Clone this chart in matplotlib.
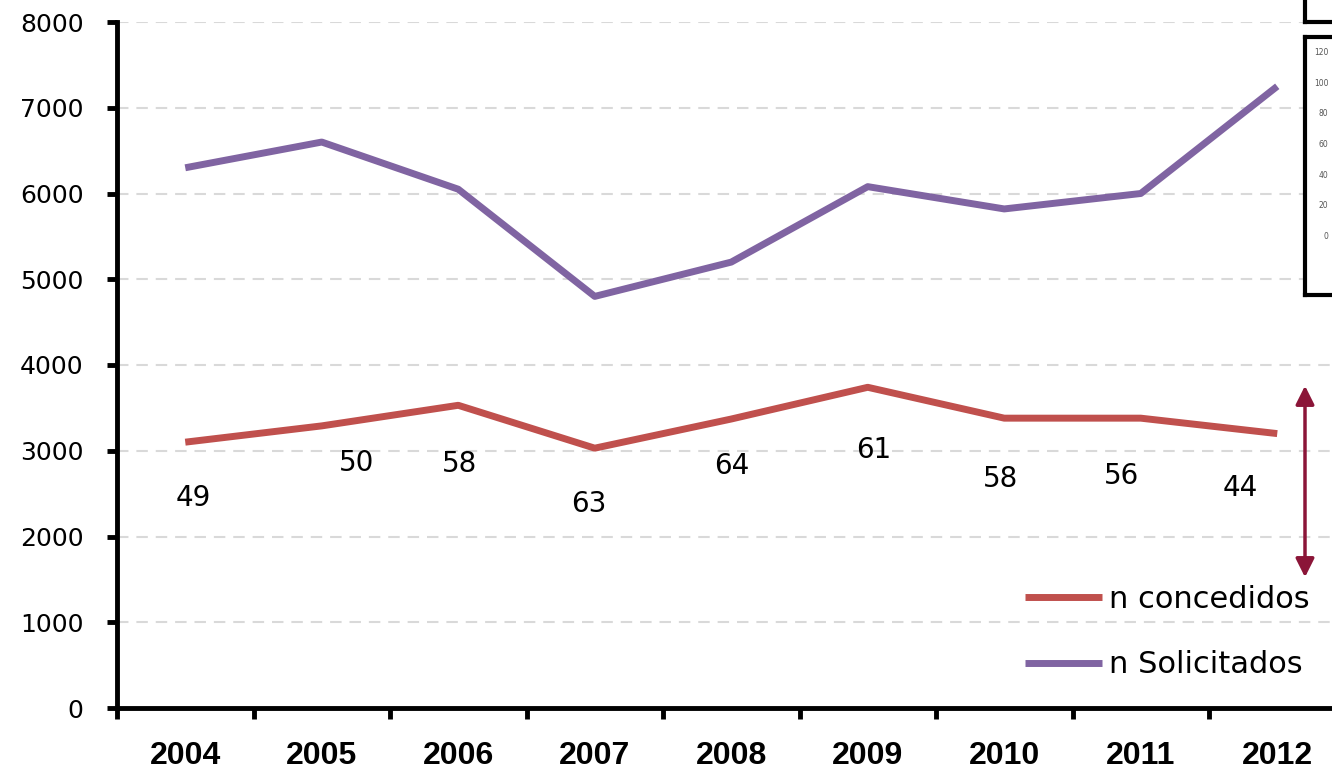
import matplotlib.pyplot as plt

# data
years = ['2004', '2005', '2006', '2007', '2008', '2009', '2010', '2011', '2012']
solicitados = [6300, 6600, 6050, 4800, 5200, 6080, 5820, 6000, 7250]
concedidos = [3100, 3290, 3530, 3030, 3370, 3740, 3380, 3380, 3200]
porcentajes = ['49', '50', '58', '63', '64', '61', '58', '56', '44']

# offsets (points) of the percentage labels from the red line points
lbl_dx = [6, 25, 1, -4, 0, 4, -3, -14, -27]
lbl_dy = [-40, -27, -42, -40, -34, -45, -44, -42, -39]

red = '#C0504D'
purple = '#8064A2'

fig = plt.figure(figsize=(13.32, 7.74), dpi=100)
W, H = 1332, 774
ax = fig.add_axes([117 / W, 1 - 708 / H, 1228.5 / W, 686 / H])

x = list(range(len(years)))
ax.plot(x, concedidos, color=red, lw=5, solid_capstyle='butt', label='n concedidos')
ax.plot(x, solicitados, color=purple, lw=5, solid_capstyle='butt', label='n Solicitados')

for i, t in enumerate(porcentajes):
    ax.annotate(t, (x[i], concedidos[i]), xytext=(lbl_dx[i], lbl_dy[i]),
                textcoords='offset points', ha='center', va='center',
                fontsize=20, color='black')

ax.set_xlim(-0.5, len(years) - 0.5)
ax.set_ylim(0, 8000)
ax.set_yticks(range(0, 8001, 1000))
ax.set_yticklabels([str(v) for v in range(0, 8001, 1000)], fontsize=18,
                   family='DejaVu Sans')
ax.set_xticks([i - 0.5 for i in range(len(years) + 1)])
ax.set_xticklabels([])
ax.set_xticks(x, minor=True)
ax.set_xticklabels(years, minor=True, fontsize=23, fontweight='bold',
                   family='Liberation Sans')
ax.tick_params(axis='x', which='minor', length=0, pad=24)
ax.tick_params(axis='x', which='major', length=8, width=3.5, direction='out')
ax.tick_params(axis='y', length=7, width=3.5, direction='out', pad=17)

for s in ['top', 'right']:
    ax.spines[s].set_visible(False)
for s in ['left', 'bottom']:
    ax.spines[s].set_linewidth(3.5)

ax.yaxis.grid(True, color='#D9D9D9', lw=1.5, linestyle=(0, (5.5, 3.8)))
ax.set_axisbelow(True)

# legend
ax.legend(loc='center left', bbox_to_anchor=(1013 / W, 1 - 632 / H),
          bbox_transform=fig.transFigure, frameon=False, fontsize=22,
          handlelength=2.5, handletextpad=0.25, labelspacing=1.2,
          borderaxespad=0)

# double arrow on the right
ax.annotate('', xy=(1305 / W, 1 - 383 / H), xytext=(1305 / W, 1 - 580 / H),
            xycoords='figure fraction', textcoords='figure fraction',
            arrowprops=dict(arrowstyle='<|-|>', color='#8B1538', lw=2.5,
                            mutation_scale=28))

# partial inset chart boxes cut off at the right edge
ins = fig.add_axes([1305 / W, 1 - 295 / H, 0.1, 258 / H])
ins.set_ylim(-39.3, 129.8)
ins.set_yticks(range(0, 121, 20))
ins.set_yticklabels([str(v) for v in range(0, 121, 20)], fontsize=5.5, color='#555555')
ins.tick_params(axis='y', length=0, pad=-17)
ins.set_xticks([])
for s in ins.spines.values():
    s.set_linewidth(3)

top = fig.add_axes([1305 / W, 1 - 22 / H, 0.1, 0.1])
top.set_xticks([])
top.set_yticks([])
for s in top.spines.values():
    s.set_linewidth(3)

fig.savefig('out.png', dpi=100)
